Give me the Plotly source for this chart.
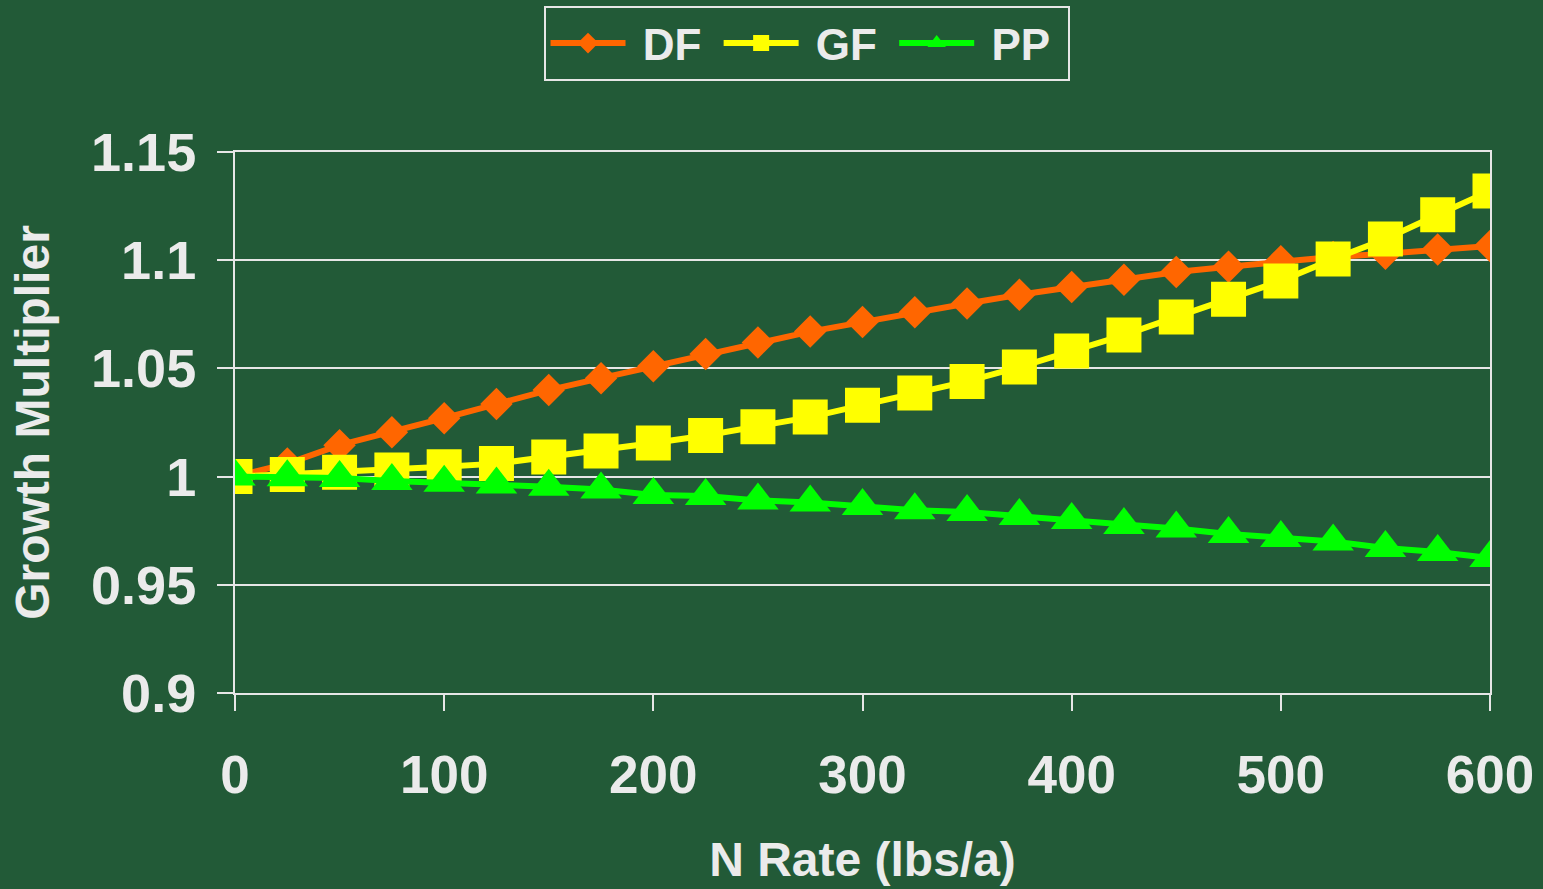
import plotly.graph_objects as go

n_rate = [0, 25, 50, 75, 100, 125, 150, 175, 200, 225, 250, 275, 300,
          325, 350, 375, 400, 425, 450, 475, 500, 525, 550, 575, 600]
df_vals = [1.000, 1.006, 1.0145, 1.0205, 1.027, 1.0335, 1.040, 1.0455, 1.051, 1.0567,
           1.062, 1.067, 1.0714, 1.076, 1.080, 1.084, 1.0876, 1.091, 1.0945, 1.097,
           1.0995, 1.1015, 1.103, 1.105, 1.1066]
gf_vals = [1.000, 1.001, 1.002, 1.003, 1.0045, 1.006, 1.009, 1.0118, 1.0155, 1.019,
           1.023, 1.0275, 1.033, 1.0386, 1.044, 1.0506, 1.058, 1.0654, 1.0738, 1.082,
           1.0904, 1.1005, 1.1098, 1.121, 1.132]
pp_vals = [1.000, 0.9997, 0.9993, 0.998, 0.9972, 0.9964, 0.9953, 0.994, 0.9915, 0.991,
           0.989, 0.988, 0.9864, 0.9845, 0.9836, 0.9818, 0.980, 0.9776, 0.976, 0.9735,
           0.9716, 0.970, 0.967, 0.9652, 0.9624]
series_names = ["DF", "GF", "PP"]

x_ticks = [0, 100, 200, 300, 400, 500, 600]
y_ticks = [0.9, 0.95, 1.0, 1.05, 1.1, 1.15]
y_tick_text = ["0.9", "0.95", "1", "1.05", "1.1", "1.15"]

FONT = "Liberation Sans, Arial, sans-serif"
TXT = "#ebebeb"
LINE = "#e6e6e6"
NB = "\u00a0"

fig = go.Figure()
fig.add_trace(go.Scatter(x=n_rate, y=df_vals, name=NB + series_names[0] + NB, mode="lines+markers",
                         line=dict(color="#FF6600", width=6),
                         marker=dict(symbol="diamond", size=25, color="#FF6600")))
fig.add_trace(go.Scatter(x=n_rate, y=gf_vals, name=NB + series_names[1] + NB, mode="lines+markers",
                         line=dict(color="#FFFF00", width=6),
                         marker=dict(symbol="square", size=35, color="#FFFF00")))
fig.add_trace(go.Scatter(x=n_rate, y=pp_vals, name=NB + series_names[2] + NB, mode="lines+markers",
                         line=dict(color="#00FF00", width=6),
                         marker=dict(symbol="triangle-up", size=36, color="#00FF00")))

fig.update_layout(
    width=1543, height=889,
    margin=dict(l=235, r=53, t=152, b=196, autoexpand=False),
    paper_bgcolor="#225a37",
    plot_bgcolor="rgba(0,0,0,0)",
    font=dict(family=FONT, color=TXT),
    showlegend=True,
    legend=dict(orientation="h", x=0.4554, xanchor="center", y=1.2699, yanchor="top",
                bgcolor="rgba(0,0,0,0)", bordercolor=LINE, borderwidth=2,
                font=dict(size=44, family=FONT, color=TXT, weight="bold"),
                itemwidth=75, tracegroupgap=0),
    xaxis=dict(range=[0, 600], tickvals=x_ticks, showgrid=False, zeroline=False,
               showline=True, linecolor=LINE, linewidth=2, mirror=True,
               ticks="outside", ticklen=16, tickwidth=2, tickcolor=LINE,
               ticklabelstandoff=18,
               tickfont=dict(size=53, family=FONT, color=TXT, weight="bold"),
               title=dict(text="N Rate (lbs/a)", standoff=40,
                          font=dict(size=48, family=FONT, color=TXT, weight="bold"))),
    yaxis=dict(range=[0.9, 1.15], tickvals=y_ticks, ticktext=y_tick_text,
               showgrid=True, gridcolor=LINE, gridwidth=2, zeroline=False,
               showline=True, linecolor=LINE, linewidth=2, mirror=True,
               ticks="outside", ticklen=16, tickwidth=2, tickcolor=LINE,
               ticklabelstandoff=10,
               tickfont=dict(size=54, family=FONT, color=TXT, weight="bold"),
               title=dict(text="Growth Multiplier", standoff=26,
                          font=dict(size=48, family=FONT, color=TXT, weight="bold"))),
)

fig.write_html("out.html")
